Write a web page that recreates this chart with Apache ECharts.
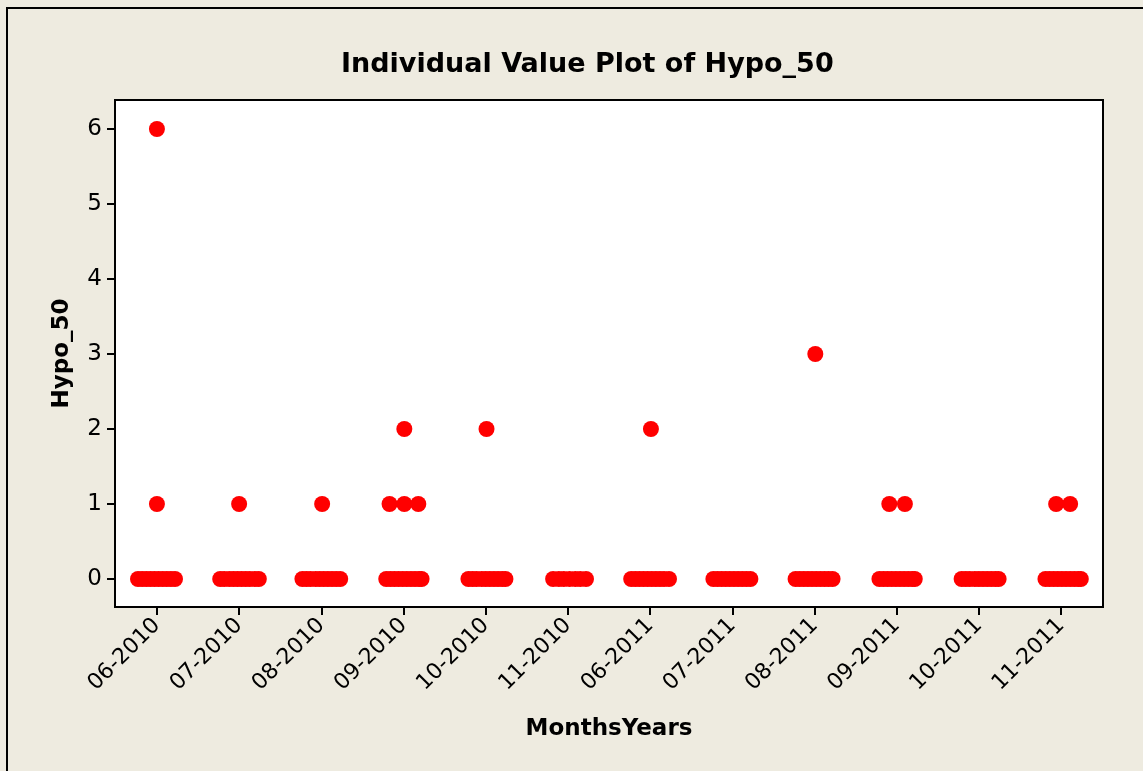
<!DOCTYPE html>
<html>
<head>
<meta charset="utf-8">
<script src="https://cdn.jsdelivr.net/npm/echarts@6/dist/echarts.min.js"></script>
<style>
html,body{margin:0;padding:0;background:#EEEBE0;}
#chart{width:1143px;height:771px;}
</style>
</head>
<body>
<div id="chart"></div>
<script>
// ---- data ----
const categories = ['06-2010','07-2010','08-2010','09-2010','10-2010','11-2010','06-2011','07-2011','08-2011','09-2011','10-2011','11-2011'];
const yTicks = [0,1,2,3,4,5,6];

// horizontal jitter (in category units) of the observations equal to 0, per category
const zeroJitter = [
  [-0.23,-0.18,-0.13,-0.08,-0.03,0.02,0.07,0.12,0.17,0.22],
  [-0.23,-0.18,-0.12,-0.07,-0.02,0.03,0.08,0.13,0.19,0.24],
  [-0.23,-0.18,-0.13,-0.07,-0.02,0.03,0.08,0.13,0.18,0.23],
  [-0.21,-0.16,-0.11,-0.06,-0.01,0.04,0.09,0.14,0.19,0.22],
  [-0.21,-0.16,-0.11,-0.05,0.00,0.05,0.10,0.15,0.20,0.24],
  [-0.18,-0.11,-0.05,0.02,0.09,0.15,0.22],
  [-0.23,-0.18,-0.13,-0.08,-0.03,0.02,0.07,0.12,0.17,0.23],
  [-0.23,-0.18,-0.13,-0.08,-0.03,0.02,0.07,0.12,0.17,0.22],
  [-0.23,-0.18,-0.13,-0.08,-0.03,0.02,0.07,0.12,0.17,0.22],
  [-0.21,-0.16,-0.11,-0.06,-0.01,0.04,0.09,0.14,0.19,0.22],
  [-0.21,-0.16,-0.11,-0.05,0.00,0.05,0.10,0.15,0.20,0.24],
  [-0.19,-0.14,-0.09,-0.04,0.01,0.06,0.11,0.16,0.21,0.24]
];

// observations above 0: category index, value, horizontal jitter
const otherCategory = [0, 0, 1, 2, 3, 3, 3, 3, 4, 6, 8, 9, 9, 11, 11];
const otherValue    = [6, 1, 1, 1, 2, 1, 1, 1, 2, 2, 3, 1, 1, 1, 1];
const otherJitter   = [0, 0, 0, 0.01, 0.01, -0.17, 0.01, 0.18, 0.01, 0.01, 0.01, -0.09, 0.10, -0.06, 0.11];

// ---- build points ----
const points = [];
zeroJitter.forEach((offs, ci) => offs.forEach(o => points.push([ci + o, 0])));
otherCategory.forEach((ci, i) => points.push([ci + otherJitter[i], otherValue[i]]));

const FONT = 'DejaVu Sans';
const chart = echarts.init(document.getElementById('chart'), null, {renderer: 'canvas'});
chart.setOption({
  backgroundColor: '#EEEBE0',
  animation: false,
  title: {
    text: 'Individual Value Plot of Hypo_50',
    left: 336, top: 46,
    textStyle: {fontFamily: FONT, fontWeight: 'bold', fontSize: 27, color: '#000'}
  },
  graphic: [{
    type: 'rect', shape: {x: 7, y: 8, width: 1150, height: 770},
    style: {fill: 'none', stroke: '#000', lineWidth: 2}, silent: true
  }],
  grid: {
    left: 115, top: 100, right: 40, bottom: 164,
    show: true, backgroundColor: '#fff', borderColor: '#000', borderWidth: 2
  },
  xAxis: {
    type: 'value', min: -0.51, max: 11.51,
    name: 'MonthsYears', nameLocation: 'middle', nameGap: 111,
    nameTextStyle: {fontFamily: FONT, fontWeight: 'bold', fontSize: 23, color: '#000'},
    axisLine: {show: true, onZero: false, lineStyle: {color: '#000', width: 2}},
    axisTick: {show: true, length: 8, customValues: categories.map((c, i) => i), lineStyle: {color: '#000', width: 2}},
    axisLabel: {
      customValues: categories.map((c, i) => i),
      formatter: v => categories[Math.round(v)],
      rotate: 45, margin: 15,
      fontFamily: FONT, fontSize: 22, color: '#000'
    },
    splitLine: {show: false}
  },
  yAxis: {
    type: 'value', min: -0.373, max: 6.387,
    name: 'Hypo_50', nameLocation: 'middle', nameGap: 41, nameRotate: 90,
    nameTextStyle: {fontFamily: FONT, fontWeight: 'bold', fontSize: 23, color: '#000'},
    axisLine: {show: true, onZero: false, lineStyle: {color: '#000', width: 2}},
    axisTick: {show: true, length: 8, customValues: yTicks, lineStyle: {color: '#000', width: 2}},
    axisLabel: {
      customValues: yTicks, margin: 13,
      fontFamily: FONT, fontSize: 23, color: '#000'
    },
    splitLine: {show: false}
  },
  series: [{
    type: 'scatter',
    data: points,
    symbol: 'circle', symbolSize: 16,
    itemStyle: {color: '#FF0000', opacity: 1},
    clip: false
  }]
});
</script>
</body>
</html>
